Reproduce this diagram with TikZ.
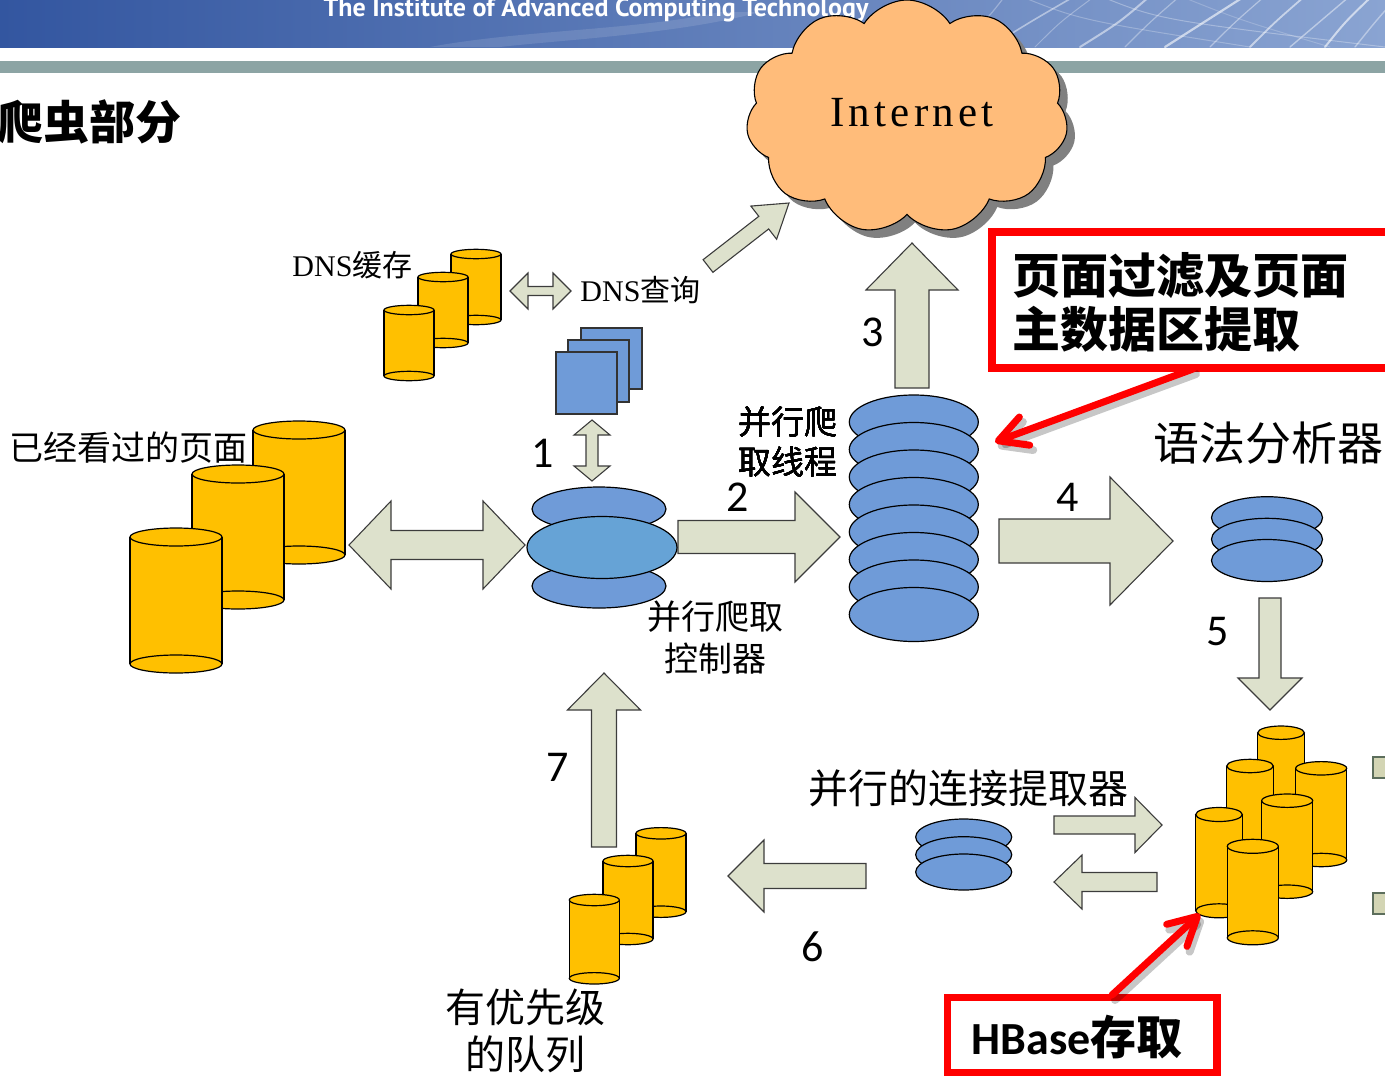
\documentclass[tikz,border=0pt]{standalone}
\usepackage{fontspec}
\setmainfont{Liberation Serif}
\newfontfamily\cjk{Noto Sans CJK SC}
\newfontfamily\numfont{Carlito}
\newfontfamily\hdfont{PT Sans}
\newfontfamily\netfont[LetterSpace=10]{Liberation Serif}
\usetikzlibrary{shapes.symbols,shadows,arrows.meta}

\definecolor{bnA}{HTML}{3356A0}
\definecolor{bnB}{HTML}{3D60A9}
\definecolor{bnC}{HTML}{8AA4D2}
\definecolor{barcol}{HTML}{8CA4A4}
\definecolor{cloudfill}{HTML}{FFBC7A}
\definecolor{arrowfill}{HTML}{DDE1CC}
\definecolor{arrowline}{HTML}{3C3C3C}
\definecolor{cylfill}{HTML}{FFC000}
\definecolor{diskfill}{HTML}{6F9BD8}
\definecolor{diskmid}{HTML}{66A3D6}
\definecolor{edgebox}{HTML}{D3D5B4}
\definecolor{edgeline}{HTML}{5C6E5C}

% single block arrow: tail x, tail y, tip x, tip y, half shaft, half head, head length
\newcommand\blockarrow[7]{%
  \pgfmathsetmacro\baang{atan2((#2)-(#4),(#3)-(#1))}%
  \pgfmathsetmacro\balen{veclen((#3)-(#1),(#4)-(#2))}%
  \begin{scope}[shift={(#1,#2)},rotate=\baang]
    \filldraw[blockarr] (0,-#5) -- (\balen-#7,-#5) -- (\balen-#7,-#6) -- (\balen,0)
      -- (\balen-#7,#6) -- (\balen-#7,#5) -- (0,#5) -- cycle;
  \end{scope}}
% double block arrow: tip x, tip y, other tip x, other tip y, half shaft, half head, head length
\newcommand\twinarrow[7]{%
  \pgfmathsetmacro\baang{atan2((#2)-(#4),(#3)-(#1))}%
  \pgfmathsetmacro\balen{veclen((#3)-(#1),(#4)-(#2))}%
  \begin{scope}[shift={(#1,#2)},rotate=\baang]
    \filldraw[blockarr] (0,0) -- (#7,-#6) -- (#7,-#5) -- (\balen-#7,-#5) -- (\balen-#7,-#6)
      -- (\balen,0) -- (\balen-#7,#6) -- (\balen-#7,#5) -- (#7,#5) -- (#7,#6) -- cycle;
  \end{scope}}
% upright storage cylinder: left x, right x, top centre y, bottom centre y, rim half-height
\newcommand\storecyl[5]{%
  \pgfmathsetmacro\sccx{(#1+#2)/2}%
  \pgfmathsetmacro\scrx{(#2-#1)/2}%
  \fill[cylfill] (\sccx,#4) ellipse[x radius=\scrx, y radius=#5];
  \fill[cylfill] (#1,#3) rectangle (#2,#4);
  \draw[cylline] (#1,#3) -- (#1,#4) (#2,#3) -- (#2,#4);
  \draw[cylline] (\sccx,#4) ellipse[x radius=\scrx, y radius=#5];
  \filldraw[fill=cylfill,cylline] (\sccx,#3) ellipse[x radius=\scrx, y radius=#5];}
% flat disk of a stack: centre x, centre y, x radius, y radius
\newcommand\stackdisk[4]{%
  \filldraw[disk] (#1,#2) ellipse[x radius=#3, y radius=#4];}

\begin{document}
\begin{tikzpicture}[x=1pt,y=-1pt,
  blockarr/.style={fill=arrowfill, draw=arrowline, line width=1.1pt, line join=miter},
  cylline/.style={draw=black, line width=1.2pt},
  disk/.style={fill=diskfill, draw=black, line width=1.2pt},
  square/.style={fill=diskfill, draw=black!80, line width=1.1pt},
  lbl/.style={inner sep=0pt, align=center},
  numlbl/.style={inner sep=0pt, font=\numfont\fontsize{44}{44}\selectfont},
  redframe/.style={draw=red, line width=7.7pt},
  redarrow/.style={draw=red, line width=7pt, line cap=round,
    -{Straight Barb[length=28pt, width=30pt, round]}},
  redshade/.style={draw=black, opacity=0.22, line width=8pt, line cap=round,
    -{Straight Barb[length=28pt, width=30pt, round]}},
  edgepiece/.style={fill=edgebox, draw=edgeline, line width=1.1pt},
  streak/.style={white, line cap=round}]

\useasboundingbox (0,0) rectangle (1385,1077);

% ---------- page header ----------
\shade[left color=bnA, middle color=bnB, right color=bnC] (0,-4) rectangle (1385,47);
\begin{scope}
  \clip (0,-4) rectangle (1385,47);
  \fill[white, opacity=0.12] (430,47) .. controls (520,30) and (640,30) .. (720,12)
    -- (760,12) .. controls (680,34) and (560,40) .. (500,47) -- cycle;
  \foreach \a/\b/\c/\o/\w in {950/985/1005/0.30/1.2, 990/1030/1075/0.45/1.6, 1035/1060/1095/0.30/1.0,
      1080/1120/1150/0.50/2.0, 1125/1150/1180/0.35/1.2, 1165/1205/1245/0.60/2.2,
      1210/1235/1265/0.40/1.2, 1250/1275/1305/0.55/1.8, 1290/1320/1350/0.45/1.4,
      1325/1345/1372/0.60/2.0, 1355/1375/1398/0.40/1.4}
    \draw[streak, opacity=\o, line width=\w pt] (\a,47) .. controls (\b,22) .. (\c,-4);
  \foreach \a/\c/\o in {1020/1250/0.25, 1100/1385/0.3, 1180/1330/0.2}
    \draw[streak, opacity=\o, line width=1pt] (\a,-4) .. controls (\a+60,20) .. (\c,47);
\end{scope}
\node[anchor=base, white, font=\hdfont\bfseries\fontsize{26}{26}\selectfont] (hdr) at (596,16)
  {The Institute of Advanced Computing Technology};
\fill[barcol] (0,61) rectangle (1385,73);

% ---------- title ----------
\node[lbl, anchor=west, font=\cjk\bfseries\fontsize{46}{46}\selectfont] (title) at (-3,122) {爬虫部分};

% ---------- Internet ----------
\node[cloud, cloud puffs=11, cloud puff arc=115, aspect=1.4, draw=black, line width=1.1pt,
  fill=cloudfill, minimum width=322pt, minimum height=234pt,
  drop shadow={shadow xshift=8pt, shadow yshift=-8pt, fill=black!50, opacity=1}] (inet) at (907,117) {};
\node[lbl, font=\netfont\fontsize{43}{43}\selectfont] (inettext) at (912,113) {Internet};

% ---------- block arrows ----------
\twinarrow{349}{545}{525}{545}{14.5}{44}{42}
\blockarrow{678}{537}{840}{537}{16.5}{45}{45}
\blockarrow{999}{541}{1173}{541}{22}{64}{63}
\blockarrow{912}{388}{912}{243}{17}{46}{47}
\blockarrow{1270}{598}{1270}{710}{11}{32}{32}
\blockarrow{866}{876}{728}{876}{12.5}{36}{36}
\blockarrow{604}{847}{604}{673}{12.5}{36.5}{37}
\twinarrow{592}{420}{592}{481}{6}{18}{15}
\twinarrow{510}{291}{571}{291}{4.5}{18}{18}
\blockarrow{708}{266}{789}{203}{8}{21}{32}
\blockarrow{1054}{825}{1162}{825}{9}{27.5}{27}
\blockarrow{1157}{882}{1054}{882}{9.5}{27}{28}
\filldraw[edgepiece] (1373,757) rectangle (1395,778);
\filldraw[edgepiece] (1373,893) rectangle (1395,914);

% ---------- pages already seen ----------
\storecyl{253}{345}{430}{555}{9}
\storecyl{192}{284}{474}{600}{9}
\storecyl{130}{222}{537}{664}{9}
\node[lbl, font=\cjk\fontsize{34}{34}\selectfont] (seen) at (128.5,448) {已经看过的页面};

% ---------- DNS cache ----------
\storecyl{451}{501}{254}{320}{4.7}
\storecyl{418}{468}{277}{343}{4.7}
\storecyl{384}{434}{310}{376}{4.7}
\node[lbl, font=\fontsize{30}{30}\selectfont] (dnscache) at (352.5,265) {DNS{\cjk 缓存}};
\node[lbl, font=\fontsize{30}{30}\selectfont] (dnsquery) at (640.5,290) {DNS{\cjk 查询}};

% ---------- DNS resolvers ----------
\filldraw[square] (581,328) rectangle (642,389);
\filldraw[square] (568,340) rectangle (629,402);
\filldraw[square] (556,352) rectangle (617,414);

% ---------- crawl controller ----------
\stackdisk{599}{509}{67}{22}
\stackdisk{599}{586}{67}{22}
\filldraw[fill=diskmid, draw=black, line width=1.2pt] (602,547.5) ellipse[x radius=75, y radius=31];
\node[lbl, font=\cjk\fontsize{34}{42}\selectfont] (ctrl) at (715,638) {并行爬取\\控制器};

% ---------- crawler threads ----------
\foreach \k in {0,...,7}
  \stackdisk{913.8}{422+27.5*\k}{64.5}{27}
\node[lbl, font=\cjk\fontsize{33}{40}\selectfont] (threads) at (788,442) {并行爬\\取线程};

% ---------- parser ----------
\stackdisk{1267}{517.7}{55.5}{21}
\stackdisk{1267}{539.3}{55.5}{21}
\stackdisk{1267}{560.5}{55.5}{21}
\node[lbl, font=\cjk\fontsize{46}{46}\selectfont] (parser) at (1268,443) {语法分析器};

% ---------- link extractor ----------
\stackdisk{963.7}{837}{48}{18}
\stackdisk{963.7}{854.7}{48}{18}
\stackdisk{963.7}{872}{48}{18}
\node[lbl, font=\cjk\fontsize{40}{40}\selectfont] (linkx) at (968,788) {并行的连接提取器};

% ---------- priority queue ----------
\storecyl{636}{686}{833.3}{911.7}{5.7}
\storecyl{603}{653}{861}{939}{5.7}
\storecyl{569.3}{619.3}{900}{978.3}{5.7}
\node[lbl, font=\cjk\fontsize{40}{47}\selectfont] (queue) at (525,1031) {有优先级\\的队列};

% ---------- HBase storage ----------
\storecyl{1257.7}{1304.3}{732.7}{826}{6.7}
\storecyl{1226.7}{1273.3}{766}{858}{6.7}
\storecyl{1295.7}{1346.7}{768.3}{860}{6.7}
\storecyl{1261.7}{1312.7}{800.7}{891.7}{6.7}
\storecyl{1195.7}{1242.3}{814.5}{910.8}{7}
\storecyl{1227.3}{1278.3}{846.3}{937.8}{7}

% ---------- step numbers ----------
\node[numlbl] (n1) at (543,453) {1};
\node[numlbl] (n2) at (738,497) {2};
\node[numlbl] (n3) at (873,332) {3};
\node[numlbl] (n4) at (1068,497) {4};
\node[numlbl] (n5) at (1218,632) {5};
\node[numlbl] (n6) at (813,947) {6};
\node[numlbl] (n7) at (558,767) {7};

% ---------- callouts ----------
\draw[redframe] (992,232) rectangle (1420,368);
\node[lbl, anchor=west, align=left, font=\cjk\bfseries\fontsize{48}{54}\selectfont] (filter) at (1012,302)
  {页面过滤及页面\\主数据区提取};
\coordinate (filterfoot) at (1193,369);
\coordinate (threadspot) at (995,442);
\draw[redshade] ([shift={(3,5)}]filterfoot) -- ([shift={(3,5)}]threadspot);
\draw[redarrow] (filterfoot) -- (threadspot);

\draw[redframe] (947.5,997.5) rectangle (1217,1072.5);
\node[lbl, font=\fontsize{46}{46}\selectfont] (hbase) at (1077,1037)
  {{\numfont\bfseries HBase}{\cjk\bfseries 存取}};
\coordinate (hbasetop) at (1112,995);
\coordinate (hbasespot) at (1200,914);
\draw[redshade] ([shift={(3,5)}]hbasetop) -- ([shift={(3,5)}]hbasespot);
\draw[redarrow] (hbasetop) -- (hbasespot);

\end{tikzpicture}
\end{document}
